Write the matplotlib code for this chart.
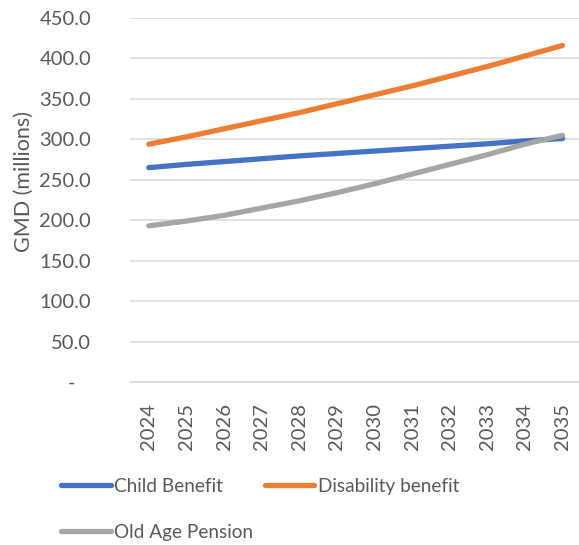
import matplotlib.pyplot as plt
import numpy as np

# data
jaren = ["2024", "2025", "2026", "2027", "2028", "2029",
         "2030", "2031", "2032", "2033", "2034", "2035"]
child_benefit = [265, 269, 272.5, 276, 279.5, 282.5, 285.5, 288.5, 291.5, 294.5, 298, 301]
disability_benefit = [294, 303, 313, 323, 333, 344, 355, 366, 378, 390, 403, 416]
old_age_pension = [193, 199, 206, 215, 224, 234, 245, 257, 269, 281, 294, 305]

# colors
blauw = "#4472C4"
oranje = "#ED7D31"
grijs = "#A5A5A5"
tekst = "#595959"
rooster = "#D9D9D9"

plt.rcParams['font.family'] = ['Lato', 'DejaVu Sans']

fig = plt.figure(figsize=(5.79, 5.45), dpi=100)
ax = fig.add_axes([130 / 579, 163 / 545, 449 / 579, 364 / 545])

x = np.arange(len(jaren))
l1, = ax.plot(x, child_benefit, color=blauw, lw=3.8, solid_capstyle="round", label="Child Benefit")
l2, = ax.plot(x, disability_benefit, color=oranje, lw=3.8, solid_capstyle="round", label="Disability benefit")
l3, = ax.plot(x, old_age_pension, color=grijs, lw=3.8, solid_capstyle="round", label="Old Age Pension")

# assen
ax.set_xlim(-0.5, 11.44)
ax.set_ylim(0, 450)
yticks = np.arange(0, 451, 50)
ax.set_yticks(yticks)
ax.set_yticklabels(["-   "] + ["%.1f" % v for v in yticks[1:]])
ax.set_xticks(x)
ax.set_xticklabels(jaren, rotation=90)
ax.tick_params(axis="both", length=0, labelsize=14.5, colors=tekst)
ax.tick_params(axis="y", pad=28)
ax.tick_params(axis="x", pad=15)

ax.grid(axis="y", color=rooster, lw=1.2)
ax.set_axisbelow(True)
for s in ["top", "right", "left"]:
    ax.spines[s].set_visible(False)
ax.spines["bottom"].set_color(rooster)
ax.spines["bottom"].set_linewidth(1.2)

ax.set_ylabel("GMD (millions)", fontsize=15.5, color=tekst)
ax.yaxis.set_label_coords(-0.215, 0.55)

# legenda: kolomsgewijs gevuld, dus Old Age Pension als tweede
fig.legend([l1, l3, l2], ["Child Benefit", "Old Age Pension", "Disability benefit"],
           loc="upper left", bbox_to_anchor=(44 / 579, 1 - 461 / 545), ncol=2,
           frameon=False, fontsize=13.7, labelcolor=tekst, handlelength=2.6,
           handletextpad=0.2, columnspacing=0.6, labelspacing=1.5)

fig.savefig("out.png", dpi=100)
